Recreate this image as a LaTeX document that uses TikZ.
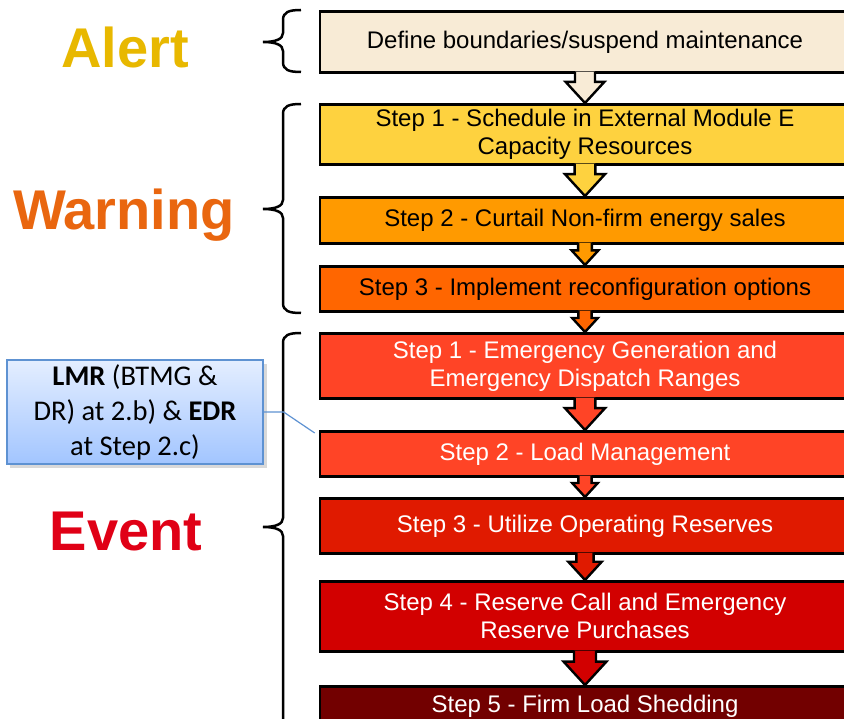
\documentclass[tikz,border=0pt]{standalone}
\usepackage{fontspec}
\setmainfont{Liberation Sans}
\newfontfamily\calfont{Carlito}
\usetikzlibrary{calc}
\definecolor{cAlertBox}{HTML}{F8EBD6}
\definecolor{cW1}{HTML}{FED23F}
\definecolor{cW2}{HTML}{FF9A00}
\definecolor{cW3}{HTML}{FF6600}
\definecolor{cE1}{HTML}{FF4426}
\definecolor{cE3}{HTML}{E01A00}
\definecolor{cE4}{HTML}{D20000}
\definecolor{cE5}{HTML}{720000}
\definecolor{cAlert}{HTML}{E8B800}
\definecolor{cWarn}{HTML}{E9660F}
\definecolor{cEvent}{HTML}{E00016}
\definecolor{cCallTop}{HTML}{E4EEFF}
\definecolor{cCallBot}{HTML}{A2C5FF}
\definecolor{cCallLine}{HTML}{5E92D2}
\newcommand\blkarrow[3]{%
  \filldraw[fill=#3,draw=black,line width=2.4pt,line join=miter]
    let \p1=(#1.south), \p2=(#2.north), \n1={\y1-\y2},
        \n2={0.34*\n1}, \n3={0.66*\n1}, \n4={0.72*\n1} in
    ({\x1+\n2},{\y1+2pt}) -- ({\x1+\n2},{\y2+\n4}) -- ({\x1+\n3},{\y2+\n4})
    -- (\x1,\y2) -- ({\x1-\n3},{\y2+\n4}) -- ({\x1-\n2},{\y2+\n4})
    -- ({\x1-\n2},{\y1+2pt});}
\newcommand\mybrace[3]{%
  \draw[line width=2.5pt]
    (301,#1) .. controls (289,#1) and (283,#1+2) .. (283,#1+10)
    -- (283,#2-9) .. controls (283,#2-3) and (276,#2) .. (263,#2)
    .. controls (276,#2) and (283,#2+3) .. (283,#2+9)
    -- (283,#3-10) .. controls (283,#3-2) and (289,#3) .. (301,#3);}
\tikzset{
  stepbox/.style={draw=black,line width=2.6pt,minimum width=530pt,inner sep=0pt,
    align=center,font=\fontsize{24}{28}\selectfont,anchor=north},
  bigword/.style={font=\fontsize{56}{60}\selectfont\bfseries,anchor=base,inner sep=0pt}
}
\begin{document}
\begin{tikzpicture}[x=1pt,y=-1pt]
\useasboundingbox (0,0) rectangle (844,719);
\clip (0,0) rectangle (844,719);
\fill[white] (0,0) rectangle (844,719);
% boxes
\node[stepbox,fill=cAlertBox,minimum height=61pt] (al) at (585,10) {Define boundaries/suspend maintenance};
\node[stepbox,fill=cW1,minimum height=60pt] (w1) at (585,103) {Step 1 - Schedule in External Module E\\Capacity Resources};
\node[stepbox,fill=cW2,minimum height=46pt] (w2) at (585,196) {Step 2 - Curtail Non-firm energy sales};
\node[stepbox,fill=cW3,minimum height=45pt] (w3) at (585,265) {Step 3 - Implement reconfiguration options};
\node[stepbox,fill=cE1,minimum height=65pt,text=white] (e1) at (585,332) {Step 1 - Emergency Generation and\\Emergency Dispatch Ranges};
\node[stepbox,fill=cE1,minimum height=45pt,text=white] (e2) at (585,430) {Step 2 - Load Management};
\node[stepbox,fill=cE3,minimum height=55pt,text=white] (e3) at (585,497) {Step 3 - Utilize Operating Reserves};
\node[stepbox,fill=cE4,minimum height=70pt,text=white] (e4) at (585,580) {Step 4 - Reserve Call and Emergency\\Reserve Purchases};
\node[stepbox,fill=cE5,minimum height=44pt,text=white,text depth=8pt] (e5) at (585,685) {Step 5 - Firm Load Shedding};
% arrows
\blkarrow{al}{w1}{cAlertBox}
\blkarrow{w1}{w2}{cW1}
\blkarrow{w2}{w3}{cW2}
\blkarrow{w3}{e1}{cW3}
\blkarrow{e1}{e2}{cE1}
\blkarrow{e2}{e3}{cE1}
\blkarrow{e3}{e4}{cE3}
\blkarrow{e4}{e5}{cE4}
% braces
\mybrace{10}{42}{72}
\mybrace{104}{209}{313}
\mybrace{333}{527}{770}
% big words
\node[bigword,text=cAlert] (lal) at (125,68) {Alert};
\node[bigword,text=cWarn] (lwa) at (124,230) {Warning};
\node[bigword,text=cEvent] (lev) at (126,550) {Event};
% callout
\fill[black,opacity=0.15] (10,364) rectangle (267,468);
\node[draw=cCallLine,line width=1.2pt,top color=cCallTop,bottom color=cCallBot,
  minimum width=256pt,minimum height=104pt,inner sep=0pt,align=center,
  font=\calfont\fontsize{28.5}{35}\selectfont] (co) at (135,412)
  {\textbf{LMR} (BTMG \&\\DR) at 2.b) \& \textbf{EDR}\\at Step 2.c)};
\draw[cCallLine,line width=1.2pt] (co.east) -- ++(20,0) -- ($(e2.north west)+(-4,3)$);
\end{tikzpicture}
\end{document}
